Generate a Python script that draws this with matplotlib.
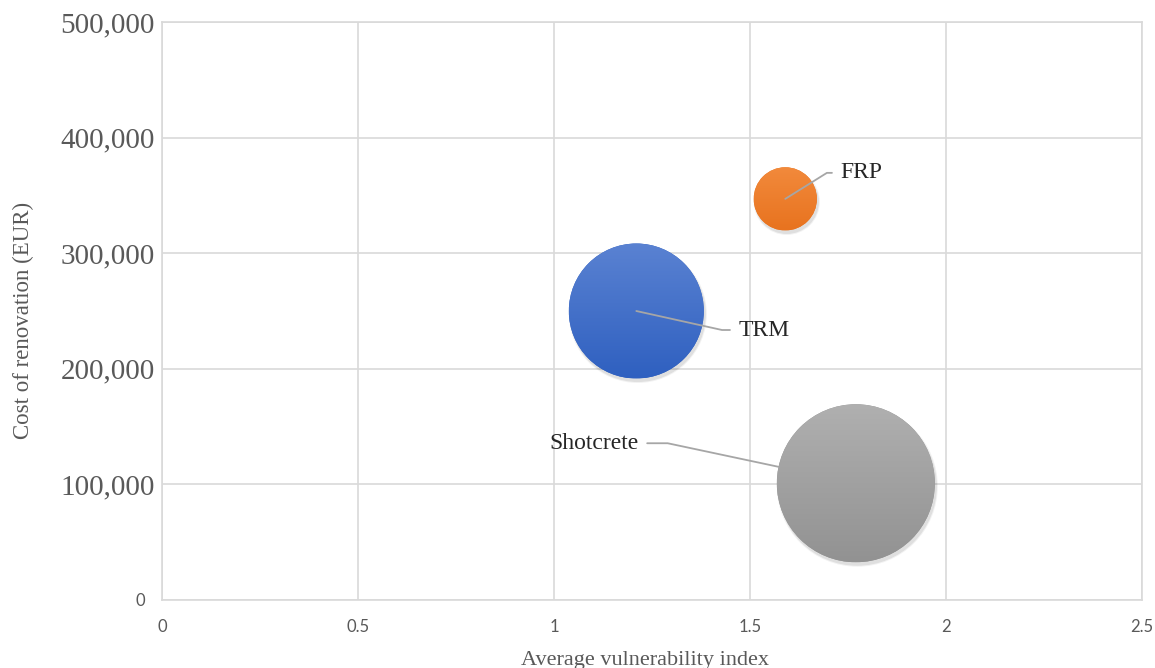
import numpy as np
import matplotlib.pyplot as plt
from matplotlib.patches import Ellipse
from matplotlib.colors import LinearSegmentedColormap

# data
methods = ["FRP", "TRM", "Shotcrete"]
vulnerability = [1.59, 1.21, 1.77]
cost = [347000, 250000, 101000]
bubble_size = [16, 73, 100]  # relative bubble area

x_ticks = [0, 0.5, 1, 1.5, 2, 2.5]
x_tick_labels = ["0", "0.5", "1", "1.5", "2", "2.5"]
y_ticks = [0, 100000, 200000, 300000, 400000, 500000]
y_tick_labels = ["0", "100,000", "200,000", "300,000", "400,000", "500,000"]

top_colors = ["#f28a3c", "#5a82d2", "#b0b0b0"]
bottom_colors = ["#e8731f", "#2f60c0", "#929292"]

SERIF = "Liberation Serif"
SANS = "Lato"
GRAY = "#595959"
GRID = "#d9d9d9"

fig = plt.figure(figsize=(11.55, 6.68), dpi=100)
ax = fig.add_axes([162 / 1155, 68 / 668, 980 / 1155, 578 / 668])
ax.set_xlim(0, 2.5)
ax.set_ylim(0, 500000)
ax.set_axisbelow(True)
ax.grid(True, color=GRID, lw=1.2)
for sp in ax.spines.values():
    sp.set_color(GRID)
    sp.set_linewidth(1.2)

# bubbles: largest radius ~79 px
max_r_pt = 79 * 72 / 100
sizes = np.array(bubble_size, dtype=float)
r_pt = max_r_pt * np.sqrt(sizes / sizes.max())
ax.scatter(vulnerability, cost, s=(2 * r_pt) ** 2, c=bottom_colors,
           linewidths=0, zorder=3)

# gradient overlay + soft shadow
fig.canvas.draw()
p0 = ax.transData.transform((0, 0))
p1 = ax.transData.transform((1, 1))
ppx, ppy = p1[0] - p0[0], p1[1] - p0[1]
for i in range(len(methods)):
    r_px = r_pt[i] * 100 / 72
    rx, ry = r_px / ppx, r_px / ppy
    xc, yc = vulnerability[i], cost[i]
    for k, a in [(1.5, 0.05), (0.5, 0.08)]:
        sh = Ellipse((xc + 1.5 / ppx, yc - 3.0 / ppy), 2 * (r_px + k) / ppx,
                     2 * (r_px + k) / ppy, color="black", alpha=a, lw=0, zorder=2)
        ax.add_patch(sh)
    clip = Ellipse((xc, yc), 2 * rx, 2 * ry, transform=ax.transData,
                   facecolor="none", edgecolor="none")
    ax.add_patch(clip)
    cmap = LinearSegmentedColormap.from_list("g%d" % i, [bottom_colors[i], top_colors[i]])
    grad = np.linspace(0, 1, 256).reshape(-1, 1)
    im = ax.imshow(grad, cmap=cmap, origin="lower", aspect="auto",
                   extent=[xc - rx, xc + rx, yc - ry, yc + ry], zorder=4)
    im.set_clip_path(clip)

ax.set_xlim(0, 2.5)
ax.set_ylim(0, 500000)

# data labels with leader lines
label_offsets = [(55, 26), (102, -19), (-217, 40)]
label_angles = [32, -12.5, -12]
for i, name in enumerate(methods):
    dx, dy = label_offsets[i]
    left = dx > 0
    ax.annotate(name, xy=(vulnerability[i], cost[i]),
                xytext=(dx * 0.72, dy * 0.72), textcoords="offset points",
                ha="left" if left else "right", va="center",
                fontsize=17, family=SERIF, color="#262626", zorder=6,
                arrowprops=dict(arrowstyle="-", color="#a6a6a6", lw=1.3,
                                connectionstyle="angle,angleA=0,angleB=%g,rad=0" % label_angles[i],
                                relpos=(0, 0.5) if left else (1, 0.5),
                                shrinkA=4, shrinkB=0 if i < 2 else r_pt[i]),
                )

ax.set_xticks(x_ticks)
ax.set_xticklabels(x_tick_labels, family=SANS, fontsize=12, color=GRAY)
ax.set_yticks(y_ticks)
ax.set_yticklabels(y_tick_labels, family=SERIF, fontsize=21, color=GRAY)
ax.tick_params(axis="both", length=0)
ax.tick_params(axis="x", pad=14)
ax.tick_params(axis="y", pad=5)
zero = ax.get_yticklabels()[0]
zero.set_family(SANS)
zero.set_fontsize(12)
ax.yaxis.get_major_ticks()[0].set_pad(12)

ax.set_xlabel("Average vulnerability index", family=SERIF, fontsize=16, color=GRAY)
ax.set_ylabel("Cost of renovation (EUR)", family=SERIF, fontsize=16.5, color=GRAY)
ax.xaxis.set_label_coords(0.493, -0.088)
ax.yaxis.set_label_coords(-0.131, 0.484)

fig.savefig("out.png", dpi=100)
